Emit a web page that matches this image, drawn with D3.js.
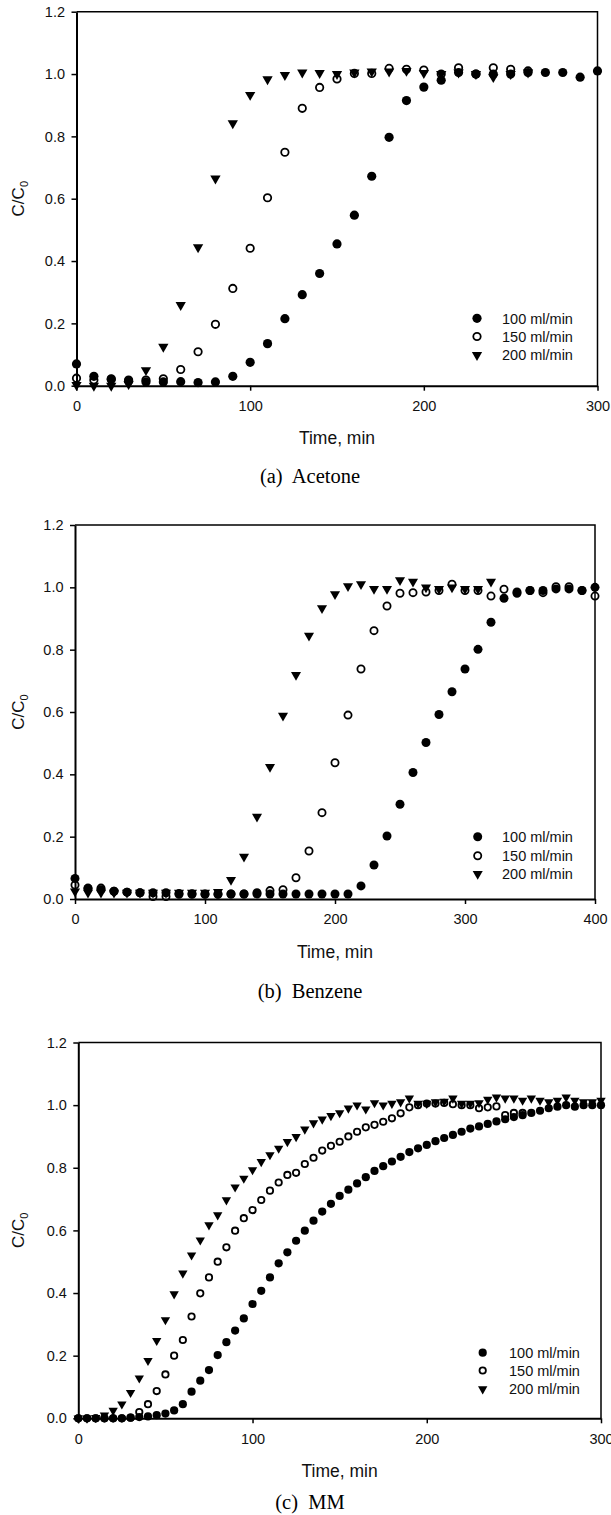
<!DOCTYPE html>
<html>
<head>
<meta charset="utf-8">
<script src="https://cdn.jsdelivr.net/npm/d3@7"></script>
<style>
  body { margin: 0; background: #fff; }
  svg { display: block; }
  .tick text { font-family: "Liberation Sans", Arial, sans-serif; font-size: 14.5px; fill: #111; }
</style>
</head>
<body>
<svg id="chart" width="611" height="1515"></svg>
<script>
// ---- data ----
var seriesNames = ["100 ml/min", "150 ml/min", "200 ml/min"];
var yTicks = [0.0, 0.2, 0.4, 0.6, 0.8, 1.0, 1.2];

// (a) Acetone, sampled every 10 min
var ticksA = [0, 100, 200, 300];
var timeA100 = [0,10,20,30,40,50,60,70,80,90,100,110,120,130,140,150,160,170,180,190,200,210,220,230,240,250,260,270,280,290,300];
var acetone100 = [0.07,0.03,0.02,0.015,0.012,0.012,0.013,0.01,0.012,0.03,0.075,0.135,0.215,0.292,0.36,0.455,0.547,0.672,0.797,0.915,0.958,0.98,1.005,1.0,1.0,1.0,1.005,1.005,1.005,0.99,1.01];
var timeA150 = [0,10,20,30,40,50,60,70,80,90,100,110,120,130,140,150,160,170,180,190,200,210,220,230,240,250,260];
var acetone150 = [0.024,0.018,0.022,0.018,0.018,0.022,0.052,0.109,0.197,0.312,0.441,0.603,0.749,0.89,0.957,0.984,1.002,1.002,1.018,1.015,1.013,1.0,1.02,1.0,1.02,1.015,1.01];
var timeA200 = [0,10,20,30,40,50,60,70,80,90,100,110,120,130,140,150,160,170,180,190,200,210,220,230,240,250,260];
var acetone200 = [0.002,0.0,0.0,0.005,0.05,0.125,0.259,0.444,0.665,0.842,0.933,0.983,0.997,1.005,1.003,1.0,1.005,1.008,1.008,1.01,1.003,1.0,1.005,1.0,0.99,1.0,1.005];

// (b) Benzene, sampled every 10 min
var ticksB = [0, 100, 200, 300, 400];
var timeB100 = [0,10,20,30,40,50,60,70,80,90,100,110,120,130,140,150,160,170,180,190,200,210,220,230,240,250,260,270,280,290,300,310,320,330,340,350,360,370,380,390,400];
var benzene100 = [0.066,0.034,0.03,0.025,0.022,0.02,0.02,0.02,0.018,0.017,0.016,0.016,0.016,0.016,0.016,0.016,0.016,0.016,0.016,0.016,0.016,0.016,0.042,0.109,0.202,0.304,0.406,0.502,0.592,0.665,0.738,0.801,0.888,0.965,0.985,0.99,0.99,0.995,0.995,0.99,1.0];
var timeB150 = [0,10,20,30,40,50,60,70,80,90,100,110,120,130,140,150,160,170,180,190,200,210,220,230,240,250,260,270,280,290,300,310,320,330,340,350,360,370,380,390,400];
var benzene150 = [0.045,0.035,0.035,0.025,0.022,0.02,0.008,0.008,0.015,0.015,0.015,0.015,0.016,0.016,0.02,0.027,0.03,0.068,0.154,0.277,0.437,0.59,0.738,0.861,0.94,0.981,0.983,0.985,0.99,1.01,0.99,0.99,0.972,0.994,0.981,0.99,0.983,1.002,1.002,0.99,0.972];
var timeB200 = [0,10,20,30,40,50,60,70,80,90,100,110,120,130,140,150,160,170,180,190,200,210,220,230,240,250,260,270,280,290,300,310,320];
var benzene200 = [0.024,0.02,0.02,0.02,0.02,0.02,0.02,0.02,0.02,0.02,0.02,0.023,0.061,0.136,0.264,0.424,0.588,0.719,0.845,0.933,0.978,1.004,1.01,0.995,0.995,1.023,1.018,1.0,0.995,1.0,0.995,0.995,1.018];

// (c) MM, sampled every 5 min
var ticksC = [0, 100, 200, 300];
var timeC100 = [0,5,10,15,20,25,30,35,40,45,50,55,60,65,70,75,80,85,90,95,100,105,110,115,120,125,130,135,140,145,150,155,160,165,170,175,180,185,190,195,200,205,210,215,220,225,230,235,240,245,250,255,260,265,270,275,280,285,290,295,300];
var mm100 = [0,0,0,0,0,0,0.002,0.004,0.006,0.01,0.015,0.025,0.045,0.085,0.12,0.154,0.202,0.243,0.28,0.319,0.365,0.407,0.45,0.495,0.53,0.567,0.599,0.631,0.66,0.685,0.71,0.73,0.75,0.77,0.79,0.805,0.82,0.835,0.85,0.862,0.873,0.885,0.895,0.905,0.915,0.925,0.932,0.94,0.948,0.955,0.962,0.968,0.975,0.982,0.99,0.995,1.0,0.995,1.0,1.0,1.0];
var timeC150 = [0,5,10,15,20,25,30,35,40,45,50,55,60,65,70,75,80,85,90,95,100,105,110,115,120,125,130,135,140,145,150,155,160,165,170,175,180,185,190,195,200,205,210,215,220,225,230,235,240,245,250,255];
var mm150 = [0,0,0,0,0,0,0.002,0.02,0.045,0.087,0.14,0.2,0.25,0.325,0.399,0.45,0.5,0.546,0.599,0.639,0.665,0.697,0.727,0.753,0.777,0.784,0.812,0.832,0.855,0.87,0.883,0.9,0.915,0.929,0.937,0.947,0.958,0.974,0.993,1.0,1.005,1.005,1.007,1.003,1.0,1.0,0.99,0.993,0.996,0.968,0.975,0.975];
var timeC200 = [0,5,10,15,20,25,30,35,40,45,50,55,60,65,70,75,80,85,90,95,100,105,110,115,120,125,130,135,140,145,150,155,160,165,170,175,180,185,190,195,200,205,210,215,220,225,230,235,240,245,250,255,260,265,270,275,280,285,290,295,300];
var mm200 = [0,0,0.002,0.01,0.025,0.045,0.082,0.128,0.184,0.248,0.314,0.397,0.463,0.521,0.569,0.617,0.649,0.697,0.738,0.766,0.793,0.819,0.841,0.862,0.883,0.899,0.923,0.943,0.955,0.966,0.975,0.99,1.0,0.987,1.007,1.0,1.005,1.01,1.022,1.005,1.005,1.01,1.012,1.022,1.005,1.005,1.007,1.018,1.025,1.022,1.022,1.015,1.022,1.015,1.01,1.015,1.025,1.015,1.01,1.01,1.015];

// ---- layout ----
var svg = d3.select("#chart");
var sans = "'Liberation Sans', Arial, sans-serif";
var serif = "'Liberation Serif', 'Times New Roman', serif";

var panels = [
  { caption: "(a)  Acetone", xMax: 300, xTicks: ticksA,
    left: 76.5, right: 597.5, bottom: 385.7, top: 11.7, r: 4.6, tri: 46,
    titleY: 438, capY: 477,
    legX: 477, legTextX: 502, legY: [318.3, 336.5, 355],
    series: [[timeA100, acetone100], [timeA150, acetone150], [timeA200, acetone200]] },
  { caption: "(b)  Benzene", xMax: 400, xTicks: ticksB,
    left: 75, right: 595, bottom: 899, top: 525, r: 4.5, tri: 44,
    titleY: 952, capY: 992,
    legX: 477.7, legTextX: 502, legY: [836.7, 855.7, 874],
    series: [[timeB100, benzene100], [timeB150, benzene150], [timeB200, benzene200]] },
  { caption: "(c)  MM", xMax: 300, xTicks: ticksC,
    left: 78.3, right: 601, bottom: 1418.3, top: 1042.5, r: 4.1, tri: 38,
    titleY: 1471, capY: 1503,
    legX: 482.7, legTextX: 509, legY: [1352.7, 1370.5, 1389],
    series: [[timeC100, mm100], [timeC150, mm150], [timeC200, mm200]] }
];

// draws one marker of style k (0 filled circle, 1 open circle, 2 down triangle)
function marker(sel, k, p) {
  if (k == 0) {
    sel.append("circle").attr("r", p.r).attr("fill", "#000");
  } else if (k == 1) {
    sel.append("circle").attr("r", p.r - 0.9).attr("fill", "none")
      .attr("stroke", "#000").attr("stroke-width", 1.8);
  } else {
    sel.append("path").attr("d", d3.symbol().type(d3.symbolTriangle).size(p.tri)())
      .attr("transform", "rotate(180)").attr("fill", "#000");
  }
}

function drawPanel(p) {
  var x = d3.scaleLinear().domain([0, p.xMax]).range([p.left, p.right]);
  var y = d3.scaleLinear().domain([0, 1.2]).range([p.bottom, p.top]);
  var g = svg.append("g");

  // top and right frame
  g.append("path")
    .attr("d", "M" + x(0) + "," + y(1.2) + "H" + x(p.xMax) + "V" + y(0))
    .attr("fill", "none").attr("stroke", "#000").attr("stroke-width", 1.5);

  var xAxis = d3.axisBottom(x).tickValues(p.xTicks).tickSize(5).tickSizeOuter(0)
    .tickPadding(10).tickFormat(d3.format("d"));
  var yAxis = d3.axisLeft(y).tickValues(yTicks).tickSize(5).tickSizeOuter(0)
    .tickPadding(6.5).tickFormat(d3.format(".1f"));

  var gx = g.append("g").attr("transform", "translate(0," + y(0) + ")").call(xAxis);
  var gy = g.append("g").attr("transform", "translate(" + x(0) + ",0)").call(yAxis);
  [gx, gy].forEach(function(a) {
    a.select(".domain").attr("stroke-width", 2);
    a.selectAll(".tick line").attr("stroke-width", 1.5);
  });

  // series: 100, 150, 200 ml/min
  p.series.forEach(function(s, k) {
    var pts = s[0].map(function(t, i) { return [t, s[1][i]]; });
    var m = g.append("g").selectAll("g").data(pts).enter().append("g")
      .attr("transform", function(d) { return "translate(" + x(d[0]) + "," + y(d[1]) + ")"; });
    marker(m, k, p);
  });

  // legend
  seriesNames.forEach(function(name, k) {
    var lg = g.append("g").attr("transform", "translate(" + p.legX + "," + p.legY[k] + ")");
    marker(lg, k, p);
    g.append("text").attr("x", p.legTextX).attr("y", p.legY[k]).attr("dy", "0.36em")
      .attr("font-family", sans).attr("font-size", "14.5px").attr("fill", "#111")
      .text(name);
  });

  // axis titles
  var midX = (x(0) + x(p.xMax)) / 2, midY = (y(0) + y(1.2)) / 2;
  g.append("text").attr("x", midX).attr("y", p.titleY).attr("dy", "0.36em")
    .attr("text-anchor", "middle").attr("font-family", sans).attr("font-size", "17.5px")
    .attr("fill", "#111").text("Time, min");

  var yl = g.append("text").attr("transform", "translate(24," + midY + ") rotate(-90)")
    .attr("text-anchor", "middle").attr("font-family", sans).attr("font-size", "17px")
    .attr("fill", "#111");
  yl.append("tspan").text("C/C");
  yl.append("tspan").attr("font-size", "11px").attr("dy", "4").text("0");

  // caption
  g.append("text").attr("x", 310).attr("y", p.capY).attr("dy", "0.3em")
    .attr("text-anchor", "middle").attr("font-family", serif).attr("font-size", "20.5px")
    .attr("fill", "#000").style("white-space", "pre").text(p.caption);
}

panels.forEach(drawPanel);
</script>
</body>
</html>
